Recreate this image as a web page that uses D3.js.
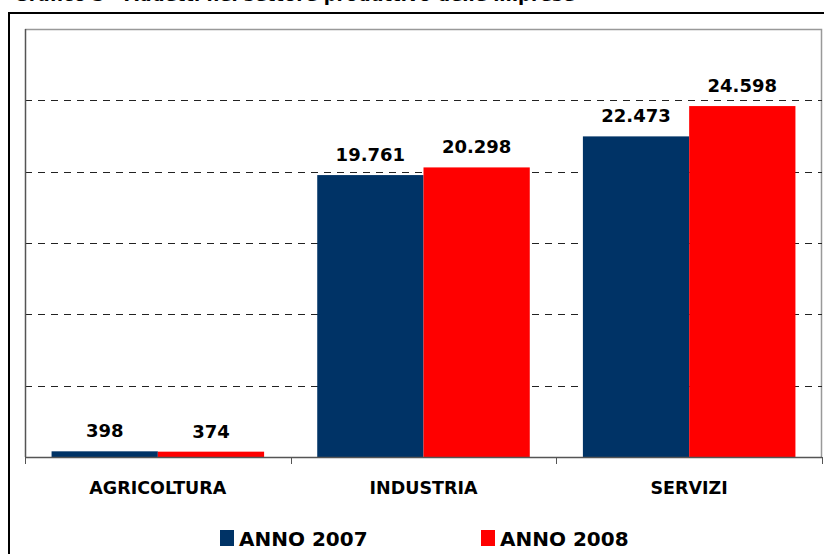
<!DOCTYPE html>
<html>
<head>
<meta charset="utf-8">
<script src="https://cdn.jsdelivr.net/npm/d3@7"></script>
<style>
  body { margin: 0; background: #fff; }
  svg { display: block; font-family: "DejaVu Sans", Verdana, sans-serif; }
</style>
</head>
<body>
<div id="chart"></div>
<script>
// data
const categories = ["AGRICOLTURA", "INDUSTRIA", "SERVIZI"];
const seriesNames = ["ANNO 2007", "ANNO 2008"];
const values2007 = [398, 19761, 22473];
const values2008 = [374, 20298, 24598];
const yTicks = [5000, 10000, 15000, 20000, 25000, 30000];

//**********************************************************************************************
//                                  CONSTANTS FOR CHART SIZE
//**********************************************************************************************
const TOTAL_WIDTH = 824;
const TOTAL_HEIGHT = 554;
const PLOT_LEFT = 25;
const PLOT_RIGHT = 822;
const PLOT_TOP = 29;
const PLOT_BOTTOM = 457;
const COLORS = ["#003366", "#ff0000"];

const fmt = v => d3.format(",")(v).replace(/,/g, ".");

const svg = d3.select("#chart").append("svg")
    .attr("width", TOTAL_WIDTH)
    .attr("height", TOTAL_HEIGHT);

// cut-off title at the very top
svg.append("text")
    .attr("x", 575)
    .attr("y", 1)
    .attr("text-anchor", "end")
    .style("font-weight", "bold")
    .style("font-size", "18px")
    .text("Grafico 3 - Addetti nel settore produttivo delle imprese");

// outer frame (runs off the right and bottom)
svg.append("rect")
    .attr("x", 9)
    .attr("y", 13)
    .attr("width", 900)
    .attr("height", 700)
    .attr("fill", "none")
    .attr("stroke", "#000")
    .attr("stroke-width", 2);

//**********************************************************************************************
//                                  SCALES
//**********************************************************************************************
const x0 = d3.scaleBand()
    .domain(categories)
    .range([PLOT_LEFT, PLOT_RIGHT])
    .paddingInner(0.2)
    .paddingOuter(0.1);

const x1 = d3.scaleBand()
    .domain(seriesNames)
    .range([0, x0.bandwidth()]);

const y = d3.scaleLinear()
    .domain([0, 30000])
    .range([PLOT_BOTTOM, PLOT_TOP]);

// plot area border (top / right)
svg.append("path")
    .attr("d", `M${PLOT_LEFT},${PLOT_TOP + 0.5}H${PLOT_RIGHT - 0.5}V${PLOT_BOTTOM}`)
    .attr("fill", "none")
    .attr("stroke", "#999")
    .attr("stroke-width", 1.5);

// gridlines
svg.append("g")
    .selectAll("line")
    .data(yTicks.slice(0, -1))
    .join("line")
    .attr("x1", PLOT_LEFT)
    .attr("x2", PLOT_RIGHT)
    .attr("y1", d => Math.round(y(d)) + 0.5)
    .attr("y2", d => Math.round(y(d)) + 0.5)
    .attr("stroke", "#222")
    .attr("stroke-dasharray", "7,6");

// bars
const rows = categories.map((c, i) => ({ cat: c, vals: [values2007[i], values2008[i]] }));

const groups = svg.append("g")
    .selectAll("g")
    .data(rows)
    .join("g")
    .attr("transform", d => `translate(${x0(d.cat)},0)`);

groups.selectAll("rect")
    .data(d => d.vals.map((v, j) => ({ s: seriesNames[j], v: v, j: j })))
    .join("rect")
    .attr("x", d => x1(d.s))
    .attr("y", d => y(d.v))
    .attr("width", x1.bandwidth())
    .attr("height", d => PLOT_BOTTOM - y(d.v))
    .attr("fill", d => COLORS[d.j]);

groups.selectAll("text")
    .data(d => d.vals.map((v, j) => ({ s: seriesNames[j], v: v })))
    .join("text")
    .attr("x", d => x1(d.s) + x1.bandwidth() / 2)
    .attr("y", d => y(d.v) - 14)
    .attr("text-anchor", "middle")
    .style("font-weight", "bold")
    .style("font-size", "18px")
    .attr("fill", "#000")
    .text(d => fmt(d.v));

// value axis line
svg.append("line")
    .attr("x1", PLOT_LEFT + 0.5)
    .attr("x2", PLOT_LEFT + 0.5)
    .attr("y1", PLOT_TOP)
    .attr("y2", PLOT_BOTTOM)
    .attr("stroke", "#555")
    .attr("stroke-width", 1.5);

// category axis
const catAxis = svg.append("g");
catAxis.append("line")
    .attr("x1", PLOT_LEFT)
    .attr("x2", PLOT_RIGHT)
    .attr("y1", PLOT_BOTTOM + 0.5)
    .attr("y2", PLOT_BOTTOM + 0.5)
    .attr("stroke", "#555")
    .attr("stroke-width", 1.5);

const bounds = categories.map(c => x0(c) - x0.step() * x0.paddingInner() / 2)
    .concat([PLOT_RIGHT]);
bounds[0] = PLOT_LEFT;
catAxis.selectAll("line.tick")
    .data(bounds)
    .join("line")
    .attr("class", "tick")
    .attr("x1", d => Math.round(d) + 0.5)
    .attr("x2", d => Math.round(d) + 0.5)
    .attr("y1", PLOT_BOTTOM)
    .attr("y2", PLOT_BOTTOM + 7)
    .attr("stroke", "#555");

catAxis.selectAll("text")
    .data(categories)
    .join("text")
    .attr("x", d => x0(d) + x0.bandwidth() / 2)
    .attr("y", 494)
    .attr("text-anchor", "middle")
    .style("font-weight", "bold")
    .style("font-size", "17.5px")
    .text(d => d);

// legend
const legendX = [220, 481];
const legend = svg.append("g")
    .selectAll("g")
    .data(seriesNames)
    .join("g")
    .attr("transform", (d, i) => `translate(${legendX[i]},0)`);

legend.append("rect")
    .attr("x", 0)
    .attr("y", 530)
    .attr("width", 14)
    .attr("height", 16)
    .attr("fill", (d, i) => COLORS[i]);

legend.append("text")
    .attr("x", 19)
    .attr("y", 546)
    .style("font-weight", "bold")
    .style("font-size", "20px")
    .text(d => d);
</script>
</body>
</html>
